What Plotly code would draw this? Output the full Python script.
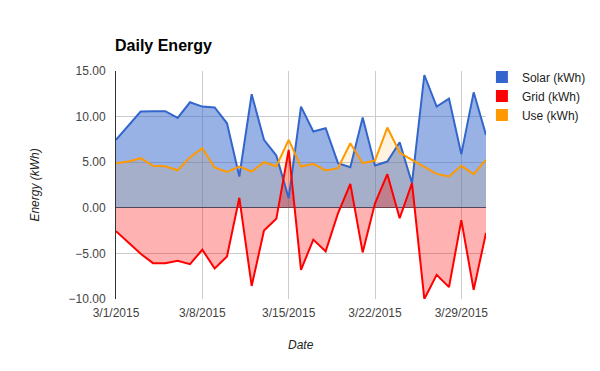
import plotly.graph_objects as go
import pandas as pd

dates = pd.date_range("2015-03-01", "2015-03-31", freq="D")

solar = [7.45, 9.0, 10.55, 10.6, 10.6, 9.85, 11.57, 11.1, 11.0, 9.27,
         3.43, 12.45, 7.45, 5.73, 1.06, 11.1, 8.36, 8.72, 4.89, 4.45,
         9.9, 4.63, 5.07, 7.19, 2.7, 14.56, 11.1, 11.97, 5.88, 12.66, 7.99]
grid = [-2.57, -3.86, -5.04, -6.07, -6.07, -5.8, -6.18, -4.6, -6.65, -5.33,
        1.1, -8.57, -2.5, -1.21, 6.35, -6.8, -3.49, -4.78, -0.6, 2.63,
        -4.89, 0.5, 3.69, -1.15, 2.7, -10.0, -7.35, -8.7, -1.36, -9.0, -2.76]
use = [4.89, 5.07, 5.44, 4.6, 4.56, 4.12, 5.55, 6.53, 4.42, 3.94,
       4.53, 3.98, 5.0, 4.56, 7.45, 4.53, 4.82, 4.09, 4.34, 7.08,
       4.89, 5.18, 8.8, 6.06, 5.26, 4.53, 3.72, 3.43, 4.6, 3.69, 5.26]

series_names = ["Solar (kWh)", "Grid (kWh)", "Use (kWh)"]
series_values = [solar, grid, use]
line_colors = ["#3366cc", "#ff0000", "#ff9900"]
fill_colors = ["rgba(51,102,204,0.5)", "rgba(255,0,0,0.3)", "rgba(255,153,0,0.12)"]

tick_dates = ["2015-03-01", "2015-03-08", "2015-03-15", "2015-03-22", "2015-03-29"]
tick_labels = ["3/1/2015", "3/8/2015", "3/15/2015", "3/22/2015", "3/29/2015"]

fig = go.Figure()

# fills first
for name, vals, fc in zip(series_names, series_values, fill_colors):
    fig.add_trace(go.Scatter(x=dates, y=vals, mode="lines", line=dict(width=0),
                             fill="tozeroy", fillcolor=fc, showlegend=False,
                             hoverinfo="skip"))
# lines on top
for name, vals, lc in zip(series_names, series_values, line_colors):
    fig.add_trace(go.Scatter(x=dates, y=vals, mode="lines", name=name,
                             line=dict(color=lc, width=2), showlegend=False))
# legend entries
for name, lc in zip(series_names, line_colors):
    fig.add_trace(go.Scatter(x=[None], y=[None], mode="markers", name=name,
                             marker=dict(symbol="square", size=12, color=lc)))

font_family = "Liberation Sans, Arial, sans-serif"

# the page body adds an 8px offset; the figure is sized to fill the rest
W, H = 592, 363

fig.update_layout(
    width=W, height=H,
    margin=dict(l=107.5, r=114, t=63, b=72, autoexpand=False),
    paper_bgcolor="white", plot_bgcolor="white",
    font=dict(family=font_family, size=12, color="#222"),
    title=dict(text="<b>Daily Energy</b>", x=107 / W, xanchor="left",
               xref="container", y=1 - 37 / H, yanchor="middle",
               font=dict(size=16, color="#000", family=font_family)),
    showlegend=True,
    legend=dict(x=0.989, y=1.0375, xanchor="left", yanchor="top",
                font=dict(size=12, color="#222"), bgcolor="rgba(0,0,0,0)",
                tracegroupgap=0),
    xaxis=dict(type="date", range=["2015-03-01", "2015-03-31"],
               tickvals=tick_dates, ticktext=tick_labels,
               showgrid=True, gridcolor="#cccccc", gridwidth=1,
               showline=False, zeroline=False, ticks="",
               ticklabelstandoff=5,
               tickfont=dict(size=12, color="#444")),
    yaxis=dict(range=[-10, 15], dtick=5, tick0=0, tickformat=".2f",
               showgrid=True, gridcolor="#cccccc", gridwidth=1,
               zeroline=True, zerolinecolor="#333333", zerolinewidth=1,
               showline=True, linecolor="#333333", linewidth=1,
               ticks="", ticklabelstandoff=7,
               tickfont=dict(size=12, color="#444")),
    annotations=[
        dict(text="<i>Date</i>", x=0.5, xref="paper", y=(299 - 345) / 228, yref="paper",
             showarrow=False, xanchor="center", yanchor="middle",
             font=dict(size=12, color="#222")),
        dict(text="<i>Energy (kWh)</i>", x=(34 - 115.5) / 370.5, xref="paper", y=0.5, yref="paper",
             textangle=-90, showarrow=False, xanchor="center", yanchor="middle",
             font=dict(size=12, color="#222")),
    ],
)

fig.write_html("out.html")
